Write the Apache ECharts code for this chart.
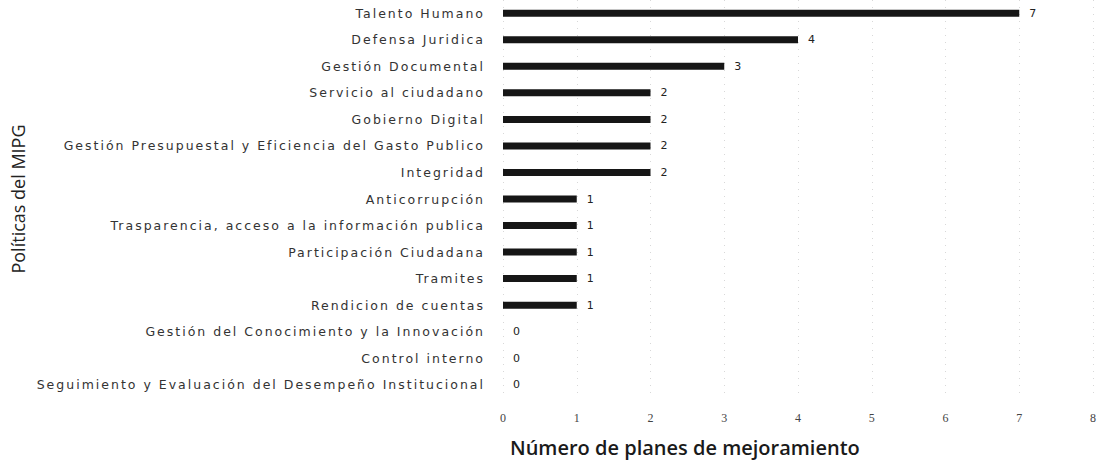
<!DOCTYPE html>
<html>
<head>
<meta charset="utf-8">
<script src="https://cdn.jsdelivr.net/npm/echarts@6/dist/echarts.min.js"></script>
<style>
  html, body { margin: 0; padding: 0; background: #fff; }
  #main { width: 1102px; height: 468px; }
  /* las etiquetas de categoria del original van espaciadas */
  #main text[style*="DejaVu Sans"] { letter-spacing: 2px; }
</style>
</head>
<body>
<div id="main"></div>
<script>
// politicas del MIPG, de arriba a abajo
const categorias = [
  'Talento Humano',
  'Defensa Juridica',
  'Gestión Documental',
  'Servicio al ciudadano',
  'Gobierno Digital',
  'Gestión Presupuestal y Eficiencia del Gasto Publico',
  'Integridad',
  'Anticorrupción',
  'Trasparencia, acceso a la información publica',
  'Participación Ciudadana',
  'Tramites',
  'Rendicion de cuentas',
  'Gestión del Conocimiento y la Innovación',
  'Control interno',
  'Seguimiento y Evaluación del Desempeño Institucional'
];
const planes = [7, 4, 3, 2, 2, 2, 2, 1, 1, 1, 1, 1, 0, 0, 0];
const ejeMin = 0, ejeMax = 8, ejePaso = 1;

const chart = echarts.init(document.getElementById('main'), null, { renderer: 'svg' });

chart.setOption({
  backgroundColor: '#fff',
  animation: false,
  title: {
    text: 'Número de planes de mejoramiento',
    left: 505,
    top: 432,
    textStyle: { fontFamily: 'Open Sans', fontWeight: 600, fontSize: 20, color: '#1a1a1a' }
  },
  grid: { left: 503, right: 9, top: 0, bottom: 70 },
  xAxis: {
    type: 'value',
    min: ejeMin,
    max: ejeMax,
    interval: ejePaso,
    axisLine: { show: false },
    axisTick: { show: false },
    splitLine: { show: true, lineStyle: { color: '#d8d8d8', type: [1, 6], width: 1 } },
    axisLabel: { margin: 14, fontFamily: 'Liberation Serif', fontSize: 12, color: '#444' }
  },
  yAxis: {
    type: 'category',
    inverse: true,
    data: categorias,
    name: 'Políticas del MIPG',
    nameLocation: 'middle',
    nameGap: 476,
    nameTextStyle: { fontFamily: 'Open Sans', fontSize: 18, color: '#222' },
    axisLine: { show: false },
    axisTick: { show: false },
    axisLabel: { margin: 18, fontFamily: 'DejaVu Sans', fontSize: 12.5, color: '#333' }
  },
  series: [{
    type: 'bar',
    data: planes,
    barWidth: 7,
    itemStyle: { color: '#161616' },
    label: {
      show: true,
      position: 'right',
      distance: 10,
      fontFamily: 'DejaVu Sans',
      fontSize: 11,
      color: '#222'
    }
  }]
});
</script>
</body>
</html>
